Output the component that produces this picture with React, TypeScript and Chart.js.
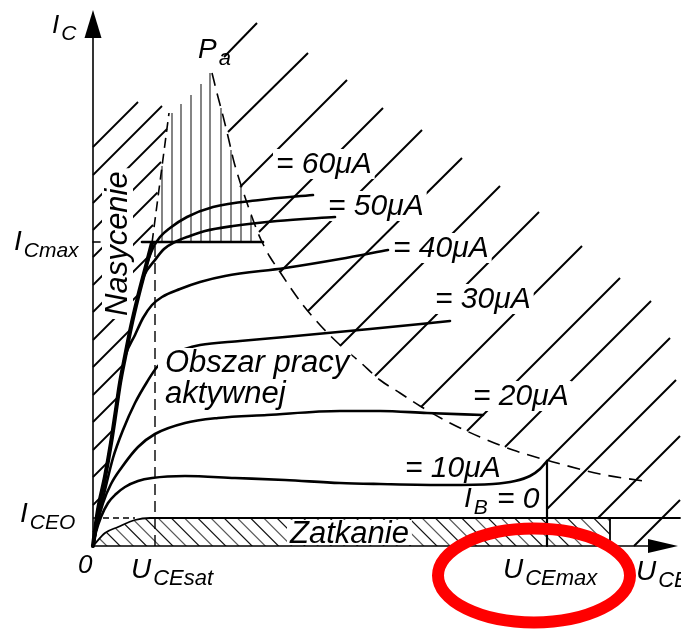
import React, { useEffect, useRef } from "react";
import { Chart, registerables } from "chart.js";

Chart.register(...registerables);

// Output characteristics of a bipolar transistor, I_C(U_CE) per base current.
// x = U_CE, y = I_C (schematic units, no ticks)
const IB_0 = [[0, 0], [2.4, 2.6], [5, 3.8], [8.4, 5.2], [11.4, 5.6], [117.4, 5.6]];
const IB_10 = [[0, 0], [0.6, 2.8], [1.6, 5.8], [3, 8.6], [4.6, 10.4], [6.4, 11.8], [9, 13], [11.8, 13.6], [18.4, 14], [28.4, 13.6], [38.4, 13.2], [49.4, 12.6], [57.4, 12.4], [70.8, 12.2], [80, 12.4], [84.4, 13], [87.4, 14], [89.4, 15.4], [90.8, 17]];
const IB_20 = [[0, 0], [0.8, 4.2], [2, 8.6], [3.6, 12.4], [5.8, 15.8], [9, 19.8], [12.4, 22.4], [18.4, 24.6], [25, 25.6], [34.8, 26.2], [49.4, 27], [57.4, 27], [66.8, 26.6], [78, 26.2]];
const IB_30 = [[0, 0], [1, 5.2], [2.4, 11.2], [4, 17.6], [6, 23.2], [8.4, 28.6], [10.8, 32.8], [12.8, 35.8], [15.4, 38], [18.4, 39.4], [21.4, 40.2], [29.4, 41], [38.4, 41.8], [55.4, 43.4], [71.4, 45]];
const IB_40 = [[0, 0], [1, 7.2], [2.4, 13.8], [3.6, 20.6], [4.6, 27.2], [5.4, 32.6], [6.4, 37.8], [8.4, 42.2], [10, 45.6], [11.8, 48.2], [13.8, 49.8], [17.4, 51.4], [21.4, 52.8], [26.4, 54], [38.4, 55.6], [49.4, 57.4], [59, 59.2]];
const IB_50 = [[0, 0], [1, 7.2], [2.4, 13.8], [3.6, 20.6], [4.6, 27.2], [5.4, 32.6], [6.4, 37.8], [7.6, 43.8], [9, 49.8], [10.2, 54], [12.4, 57.2], [14.2, 59.4], [16.4, 60.8], [19.4, 62], [22.4, 63], [28, 64], [36.8, 65], [48.4, 65.8]];
const IB_60 = [[0, 0], [1, 7.2], [2.4, 13.8], [3.6, 20.6], [4.6, 27.2], [5.4, 32.6], [6.4, 37.8], [7.6, 43.8], [9, 49.8], [10.4, 55.2], [12, 59.6], [13.4, 61.8], [15.4, 63.6], [18.8, 65.8], [24, 67.8], [33.4, 69.2], [44, 70.2]];

// Saturation boundary (solid) and its continuation above I_Cmax (dashed)
const SAT_EDGE = [[0, 0], [1, 7.2], [2.4, 13.8], [3.6, 20.6], [4.6, 27.2], [5.4, 32.6], [6.4, 37.8], [7.6, 43.8], [9, 49.8], [10.4, 55.2], [11.8, 60.6]];
const SAT_EXT = [[11.8, 60.6], [15.2, 86.6]];

// Maximum power dissipation hyperbola P_a
const PA_CURVE = [[23.8, 94.6], [25, 89.8], [25.8, 86.8], [26.6, 83.6], [27.4, 80.2], [28.2, 76.8], [29.4, 72.8], [30.6, 69.2], [31.8, 65.8], [33, 62.6], [34.2, 60], [35.4, 57.8], [37.4, 54.8], [39.4, 51.8], [42, 48.2], [45.4, 44.2], [49.4, 40.2], [53.4, 36.8], [57.4, 33.2], [61.4, 30.6], [65.4, 28], [71.4, 24.6], [77.4, 21.8], [84, 19.2], [92.8, 16.6], [101.4, 14.4], [110, 13]];

// Limits
const U_CESAT = 12.4;
const U_CEMAX = 90.8;
const U_ZAT_END = 103.4;
const I_CMAX = 60.8;
const I_CEO = 5.6;
const AXIS_X_END = 117;
const AXIS_Y_END = 107.2;

// Hatching of the forbidden areas: [x1, y1, x2, y2]
const HATCH_UPPER = [
  [26.2, 97.8, 32.8, 104.6], [27, 82.8, 43, 98.6], [29.4, 71.8, 50.8, 93.2], [33.2, 62.8, 58, 87.6],
  [37.4, 54.8, 65.8, 83.2], [43, 47, 73.8, 77.6], [49.4, 40, 81.4, 72], [56.4, 34, 89.2, 66.8],
  [65.6, 27.8, 97.8, 60], [74.8, 23, 105.4, 53.6], [82.4, 19.8, 111.6, 49], [90.8, 17, 115.4, 41.6],
  [90.8, 7.4, 116.6, 33.2], [101, 5.6, 117.4, 22], [108.2, 0, 117.4, 9.2],
];
const HATCH_LEFT = [
  [0, 79.8, 9, 88.8], [0, 74.2, 13.8, 88], [0, 68.6, 14.8, 83.4], [0, 63.2, 13.6, 76.8],
  [0, 57.8, 12.9, 70.7], [0, 52.2, 12, 64.2], [0, 46.8, 11, 57.8], [0, 41.2, 9.2, 50.4],
  [0, 35.8, 7.7, 43.5], [0, 30.2, 6.1, 36.3], [0, 24.8, 5, 29.8], [0, 19.2, 3.9, 23.1],
  [0, 13.8, 3, 16.8], [0, 8.2, 1.4, 9.6], [0, 2.8, 0.6, 3.4],
];
const PA_HATCH_X = [13.8, 15.8, 17.6, 19.6, 21.6, 23.4, 25.6, 27.6, 29.6, 31.6];
const PA_HATCH_TOP = [76, 86.6, 88.4, 90.2, 92.4, 94.6, 87.6, 79.2, 72, 66];
const ZAT_PHASE = 13.34;
const ZAT_STEP = 2.64;

// Text
const IB_LABELS = ["= 60μA", "= 50μA", "= 40μA", "= 30μA", "= 20μA", "= 10μA"];
const IB_LABEL_POS = [[36.6, 74.6], [47, 66.2], [60, 57.8], [68.4, 47.6], [76, 28.2], [62.4, 13.8]];
const SYMBOLS = [
  // main, subscript, x, y, main size, sub size
  ["I", "C", -8.2, 102.6, 26, 21],
  ["P", "a", 21, 97.6, 28, 22],
  ["I", "Cmax", -15.8, 59.2, 28, 21],
  ["I", "CEO", -14.6, 4.8, 28, 21],
  ["U", "CEsat", 7.6, -6.4, 28, 22],
  ["U", "CEmax", 82, -6.4, 28, 22],
  ["U", "CE", 108.6, -6.8, 28, 22],
  ["I", "B", 74.2, 7.8, 28, 21],
];
const REGION_TEXT = [
  ["Obszar pracy", 14.4, 34.8],
  ["aktywnej", 14.4, 28.6],
];
const SAT_TEXT = ["Nasycenie", 6.8, 46];
const CUT_TEXT = ["Zatkanie", 39.4, 0.6];
const ORIGIN_TEXT = ["0", -3, -5.4];
const IB0_TAIL = ["= 0", 80.8, 7.6];
const HIGHLIGHT = { cx: 88.2, cy: -5.9, rx: 19.2, ry: 9.4 };

const FONT = '"Liberation Sans", Arial, Helvetica, sans-serif';
const font = (ctx: CanvasRenderingContext2D, size: number) => {
  ctx.font = `italic ${size}px ${FONT}`;
};

const pts = (a: number[][]) => a.map(([x, y]) => ({ x, y }));

const line = (data: number[][], width: number, extra: any = {}) => ({
  data: pts(data),
  showLine: true,
  borderColor: "#000",
  backgroundColor: "#000",
  borderWidth: width,
  pointRadius: 0,
  pointHoverRadius: 0,
  fill: false,
  clip: false,
  spanGaps: false,
  borderCapStyle: "round",
  borderJoinStyle: "round",
  ...extra,
});
const curve = (data: number[][], width: number) => line(data, width, { cubicInterpolationMode: "monotone" });

const diagramPlugin = {
  id: "diagram",
  beforeDatasetsDraw(chart: any) {
    const ctx: CanvasRenderingContext2D = chart.ctx;
    const X = (v: number) => chart.scales.x.getPixelForValue(v);
    const Y = (v: number) => chart.scales.y.getPixelForValue(v);
    const seg = (s: number[], w: number) => {
      ctx.lineWidth = w;
      ctx.beginPath();
      ctx.moveTo(X(s[0]), Y(s[1]));
      ctx.lineTo(X(s[2]), Y(s[3]));
      ctx.stroke();
    };
    ctx.save();
    ctx.strokeStyle = "#000";
    ctx.lineCap = "butt";

    // cut-off strip below I_CEO
    ctx.save();
    const region = [...IB_0.slice(0, 5), [U_ZAT_END, I_CEO], [U_ZAT_END, 0]];
    ctx.beginPath();
    region.forEach(([x, y], i) => (i ? ctx.lineTo(X(x), Y(y)) : ctx.moveTo(X(x), Y(y))));
    ctx.closePath();
    ctx.clip();
    for (let k = -8; k < 45; k++) {
      const s = ZAT_PHASE + ZAT_STEP * k;
      ctx.strokeStyle = k % 2 ? "#111" : "#555";
      seg([s - 8, 8, s + 2, -2], 1.2);
    }
    ctx.restore();

    HATCH_UPPER.forEach((s) => seg(s, 2));
    HATCH_LEFT.forEach((s) => seg(s, 1.8));
    ctx.strokeStyle = "#333";
    PA_HATCH_X.forEach((x, i) => seg([x, I_CMAX, x, PA_HATCH_TOP[i]], 1.2));

    // white knock-out behind labels
    ctx.fillStyle = "#fff";
    font(ctx, 30);
    IB_LABELS.forEach((t, i) => {
      const w = ctx.measureText(t).width;
      const [x, y] = IB_LABEL_POS[i];
      ctx.fillRect(X(x) - 3, Y(y) - 24, w + 6, 30);
    });
    font(ctx, 31);
    {
      const w = ctx.measureText(SAT_TEXT[0] as string).width;
      ctx.save();
      ctx.translate(X(SAT_TEXT[1] as number), Y(SAT_TEXT[2] as number));
      ctx.rotate(-Math.PI / 2);
      ctx.fillRect(-3, -25, w + 6, 31);
      ctx.restore();
      const wz = ctx.measureText(CUT_TEXT[0] as string).width;
      const zx = X(CUT_TEXT[1] as number);
      ctx.fillRect(zx - 3, Y(I_CEO) + 2, wz + 6, Y(0) - Y(I_CEO) - 3);
    }
    ctx.restore();
  },
  afterDatasetsDraw(chart: any) {
    const ctx: CanvasRenderingContext2D = chart.ctx;
    const X = (v: number) => chart.scales.x.getPixelForValue(v);
    const Y = (v: number) => chart.scales.y.getPixelForValue(v);
    ctx.save();
    ctx.fillStyle = "#000";

    // axis arrow heads
    ctx.beginPath();
    ctx.moveTo(X(0), Y(AXIS_Y_END));
    ctx.lineTo(X(0) - 8.5, Y(AXIS_Y_END) + 28);
    ctx.lineTo(X(0) + 8.5, Y(AXIS_Y_END) + 28);
    ctx.closePath();
    ctx.fill();
    ctx.beginPath();
    ctx.moveTo(X(AXIS_X_END), Y(0));
    ctx.lineTo(X(AXIS_X_END) - 30, Y(0) - 7);
    ctx.lineTo(X(AXIS_X_END) - 30, Y(0) + 7);
    ctx.closePath();
    ctx.fill();

    // active region label on a white ground
    font(ctx, 31);
    REGION_TEXT.forEach(([t, x, y], i) => {
      const w = ctx.measureText(t as string).width;
      ctx.fillStyle = "#fff";
      ctx.fillRect(X(x as number) - 7, Y(y as number) - 24, w + 9, i === 0 ? 25 : 31);
    });
    ctx.fillStyle = "#000";
    ctx.textBaseline = "alphabetic";
    REGION_TEXT.forEach(([t, x, y]) => ctx.fillText(t as string, X(x as number), Y(y as number)));
    ctx.fillText(CUT_TEXT[0] as string, X(CUT_TEXT[1] as number), Y(CUT_TEXT[2] as number));

    ctx.save();
    ctx.translate(X(SAT_TEXT[1] as number), Y(SAT_TEXT[2] as number));
    ctx.rotate(-Math.PI / 2);
    ctx.fillText(SAT_TEXT[0] as string, 0, 0);
    ctx.restore();

    font(ctx, 30);
    IB_LABELS.forEach((t, i) => ctx.fillText(t, X(IB_LABEL_POS[i][0]), Y(IB_LABEL_POS[i][1])));
    ctx.fillText(IB0_TAIL[0] as string, X(IB0_TAIL[1] as number), Y(IB0_TAIL[2] as number));

    font(ctx, 26);
    ctx.fillText(ORIGIN_TEXT[0] as string, X(ORIGIN_TEXT[1] as number), Y(ORIGIN_TEXT[2] as number));

    SYMBOLS.forEach(([m, s, x, y, ms, ss]) => {
      font(ctx, ms as number);
      const px = X(x as number);
      const py = Y(y as number);
      ctx.fillText(m as string, px, py);
      const w = ctx.measureText(m as string).width;
      font(ctx, ss as number);
      ctx.fillText(s as string, px + w + 2, py + 7);
    });

    // highlight ring
    const { cx, cy, rx, ry } = HIGHLIGHT;
    ctx.strokeStyle = "#ff0000";
    ctx.lineWidth = 12;
    ctx.beginPath();
    ctx.ellipse(X(cx), Y(cy), X(cx + rx) - X(cx), Y(cy - ry) - Y(cy), 0, 0, Math.PI * 2);
    ctx.stroke();
    ctx.restore();
  },
};

export default function App() {
  const ref = useRef<HTMLCanvasElement | null>(null);
  useEffect(() => {
    if (!ref.current) return;
    const chart = new Chart(ref.current, {
      type: "scatter",
      data: {
        datasets: [
          line([[0, 0], [0, AXIS_Y_END - 5.6]], 1.6),
          line([[0, 0], [AXIS_X_END - 6, 0]], 1.6),
          line([[0, I_CMAX], [1.4, I_CMAX]], 1.6),
          line([[0, I_CEO], [8.4, I_CEO]], 1.4, { borderDash: [6, 4], borderCapStyle: "butt" }),
          line([[U_CESAT, 0], [U_CESAT, I_CMAX]], 1.4, { borderDash: [11, 6], borderCapStyle: "butt" }),
          line([[9.8, I_CMAX], [34, I_CMAX]], 2.6),
          line([[U_CEMAX, 0], [U_CEMAX, IB_10[IB_10.length - 1][1]]], 2.2),
          line([[U_ZAT_END, 0], [U_ZAT_END, I_CEO]], 1.8),
          line(SAT_EXT, 1.6, { borderDash: [10, 6], borderCapStyle: "butt" }),
          line(PA_CURVE, 1.6, { cubicInterpolationMode: "monotone", borderDash: [13, 8], borderCapStyle: "butt" }),
          curve(IB_0, 1.8),
          curve(IB_10, 2.6),
          curve(IB_20, 2.6),
          curve(IB_30, 2.6),
          curve(IB_40, 2.6),
          curve(IB_50, 2.6),
          curve(IB_60, 2.6),
          line(SAT_EDGE, 4.2, { cubicInterpolationMode: "monotone" }),
        ],
      },
      options: {
        animation: false,
        responsive: false,
        events: [],
        layout: { padding: { left: 93, right: 3, top: 10, bottom: 85 } },
        scales: {
          x: { type: "linear", min: 0, max: AXIS_X_END, display: false },
          y: { type: "linear", min: 0, max: AXIS_Y_END, display: false },
        },
        plugins: { legend: { display: false }, tooltip: { enabled: false } },
      },
      plugins: [diagramPlugin],
    } as any);
    return () => chart.destroy();
  }, []);
  return (
    <div style={{ position: "absolute", left: 0, top: 0, width: 681, height: 631, background: "#fff" }}>
      <canvas ref={ref} width={681} height={631} style={{ display: "block" }} />
    </div>
  );
}
